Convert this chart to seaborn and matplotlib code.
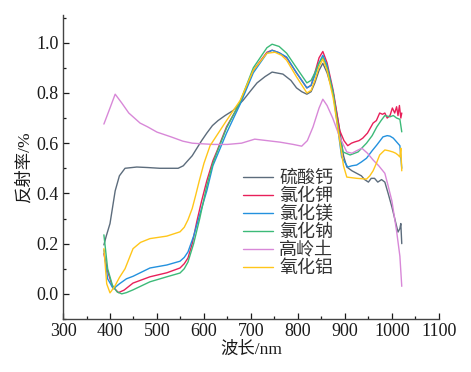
import numpy as np
import pandas as pd
import matplotlib
matplotlib.use("Agg")
import matplotlib.pyplot as plt
from matplotlib.ticker import MultipleLocator
import seaborn as sns

# spectra (wavelength nm, reflectance)
caso4_wl = [387, 392, 400, 411, 420, 432, 457, 480, 506, 530, 545, 556, 563, 575, 585, 595, 606, 618, 630, 645,
            662, 683, 700, 713, 730, 745, 768, 785, 797, 808, 819, 828, 836, 845, 853, 862, 875, 889, 897, 904,
            915, 925, 935, 942, 950, 956, 963, 970, 978, 985, 992, 1000, 1006, 1013, 1017, 1019, 1021]
caso4_r = [0.195, 0.23, 0.28, 0.41, 0.47, 0.50, 0.505, 0.503, 0.50, 0.50, 0.50, 0.51, 0.525, 0.55, 0.58, 0.61, 0.64, 0.67, 0.69, 0.71,
           0.73, 0.77, 0.81, 0.84, 0.865, 0.883, 0.875, 0.85, 0.82, 0.805, 0.795, 0.805, 0.84, 0.89, 0.918, 0.88, 0.80, 0.65, 0.55, 0.505,
           0.49, 0.48, 0.47, 0.455, 0.445, 0.46, 0.46, 0.445, 0.455, 0.445, 0.40, 0.346, 0.30, 0.246, 0.26, 0.28, 0.20]

kcl_wl = [387, 395, 405, 418, 430, 449, 485, 521, 549, 558, 566, 575, 585, 595, 606, 619, 628, 648, 677, 705,
          734, 745, 760, 776, 797, 819, 828, 836, 845, 853, 862, 875, 889, 898, 906, 914, 921, 930, 938, 948,
          960, 967, 974, 980, 985, 990, 996, 1001, 1006, 1010, 1013, 1016, 1019, 1021]
kcl_r = [0.16, 0.09, 0.03, 0.005, 0.015, 0.043, 0.068, 0.084, 0.103, 0.12, 0.143, 0.20, 0.29, 0.37, 0.45, 0.53, 0.57, 0.665, 0.76, 0.89,
         0.962, 0.97, 0.96, 0.94, 0.88, 0.82, 0.83, 0.88, 0.94, 0.965, 0.92, 0.81, 0.65, 0.61, 0.59, 0.60, 0.605, 0.61, 0.62, 0.64,
         0.68, 0.69, 0.72, 0.715, 0.72, 0.70, 0.71, 0.74, 0.72, 0.745, 0.71, 0.75, 0.70, 0.72]

mgcl2_wl = [387, 395, 407, 420, 435, 449, 485, 521, 549, 558, 566, 578, 591, 606, 619, 648, 677, 705, 734, 745,
            760, 776, 797, 819, 828, 836, 845, 853, 862, 875, 893, 906, 915, 925, 935, 946, 958, 968, 981, 990,
            996, 1003, 1010, 1017, 1021]
mgcl2_r = [0.175, 0.06, 0.02, 0.04, 0.06, 0.07, 0.103, 0.115, 0.13, 0.145, 0.167, 0.23, 0.315, 0.41, 0.51, 0.64, 0.755, 0.88, 0.958, 0.97,
           0.96, 0.943, 0.88, 0.82, 0.83, 0.87, 0.92, 0.95, 0.91, 0.80, 0.545, 0.505, 0.51, 0.513, 0.525, 0.54, 0.57, 0.593, 0.625, 0.63,
           0.628, 0.62, 0.605, 0.59, 0.50]

nacl_wl = [387, 395, 405, 415, 425, 435, 449, 485, 521, 549, 558, 566, 578, 591, 606, 619, 628, 648, 677, 705,
           734, 745, 760, 776, 797, 819, 828, 836, 845, 853, 862, 875, 889, 896, 911, 928, 946, 958, 968, 977,
           985, 996, 1003, 1010, 1017, 1021]
nacl_r = [0.235, 0.10, 0.035, 0.008, 0.0, 0.005, 0.016, 0.048, 0.068, 0.083, 0.10, 0.127, 0.20, 0.30, 0.43, 0.52, 0.565, 0.66, 0.765, 0.90,
          0.98, 0.994, 0.985, 0.958, 0.90, 0.84, 0.85, 0.88, 0.92, 0.94, 0.90, 0.80, 0.625, 0.565, 0.553, 0.565, 0.60, 0.63, 0.665, 0.69,
          0.71, 0.705, 0.71, 0.70, 0.695, 0.645]

kaolin_wl = [387, 400, 411, 425, 440, 464, 480, 500, 530, 555, 575, 591, 620, 650, 680, 708, 735, 762, 790, 808,
             820, 832, 845, 853, 862, 874, 889, 904, 915, 925, 936, 948, 960, 972, 985, 992, 1000, 1010, 1017, 1021]
kaolin_r = [0.676, 0.74, 0.795, 0.76, 0.72, 0.68, 0.665, 0.644, 0.625, 0.608, 0.60, 0.598, 0.595, 0.595, 0.60, 0.616, 0.61, 0.604, 0.595, 0.588,
            0.61, 0.664, 0.74, 0.775, 0.75, 0.70, 0.624, 0.565, 0.56, 0.57, 0.58, 0.56, 0.533, 0.51, 0.48, 0.43, 0.37, 0.25, 0.15, 0.03]

al2o3_wl = [387, 393, 400, 410, 420, 432, 449, 465, 485, 521, 549, 558, 566, 575, 582, 590, 600, 613, 634, 648,
            677, 705, 734, 751, 765, 776, 797, 819, 828, 836, 845, 853, 862, 875, 889, 897, 904, 925, 946, 953,
            960, 967, 974, 985, 993, 1002, 1008, 1013, 1017, 1019, 1021]
al2o3_r = [0.18, 0.04, 0.004, 0.03, 0.065, 0.10, 0.18, 0.205, 0.22, 0.23, 0.247, 0.265, 0.295, 0.34, 0.39, 0.45, 0.52, 0.59, 0.65, 0.69,
           0.77, 0.89, 0.958, 0.962, 0.95, 0.93, 0.864, 0.80, 0.81, 0.85, 0.905, 0.935, 0.89, 0.78, 0.61, 0.51, 0.465, 0.46, 0.457, 0.47,
           0.49, 0.52, 0.553, 0.573, 0.57, 0.565, 0.56, 0.553, 0.545, 0.58, 0.49]

names = ["硫酸钙", "氯化钾", "氯化镁", "氯化钠", "高岭土", "氧化铝"]
colors = ["#5c6c7c", "#e8205a", "#2391de", "#3cba78", "#d888d8", "#ffc61a"]
series = [(caso4_wl, caso4_r), (kcl_wl, kcl_r), (mgcl2_wl, mgcl2_r),
          (nacl_wl, nacl_r), (kaolin_wl, kaolin_r), (al2o3_wl, al2o3_r)]

sns.set_style("ticks")
plt.rcParams['font.family'] = ['Liberation Serif', 'Noto Sans CJK SC']

fig = plt.figure(figsize=(4.71, 3.72), dpi=100)
ax = fig.add_axes([0.1338, 0.1425, 0.798, 0.817])

for name, col, (wl, r) in zip(names, colors, series):
    df = pd.DataFrame({"wl": wl, "r": r})
    sns.lineplot(data=df, x="wl", y="r", ax=ax, color=col, lw=1.0, sort=False, label=name)

ax.set_xlim(300, 1100)
ax.set_ylim(-0.1, 1.11)
ax.xaxis.set_major_locator(MultipleLocator(100))
ax.xaxis.set_minor_locator(MultipleLocator(50))
ax.yaxis.set_minor_locator(MultipleLocator(0.1))
ax.set_yticks([0.0, 0.2, 0.4, 0.6, 0.8, 1.0])
ax.set_yticklabels(["0.0", "0.2", "0.4", "0.6", "0.8", "1.0"])
ax.tick_params(which='major', direction='in', length=4, width=0.9, labelsize=13, colors='#1a1a1a', pad=3)
ax.tick_params(which='minor', direction='in', length=2.5, width=0.9, colors='#1a1a1a')
for s in ['top', 'right']:
    ax.spines[s].set_visible(False)
for s in ['left', 'bottom']:
    ax.spines[s].set_color('#444444')
    ax.spines[s].set_linewidth(1.0)

ax.set_xlabel("波长/nm", fontsize=12.5, color='#1a1a1a', labelpad=1)
ax.set_ylabel("反射率/%", fontsize=12.5, color='#1a1a1a', labelpad=3)

leg = ax.legend(loc='upper left', bbox_to_anchor=(0.49, 0.577), bbox_transform=fig.transFigure,
                frameon=False, fontsize=13, handlelength=1.65, handletextpad=0.33,
                labelspacing=0.05, borderpad=0.2)
for t in leg.get_texts():
    t.set_color('#333333')

fig.savefig("out.png", dpi=100)
